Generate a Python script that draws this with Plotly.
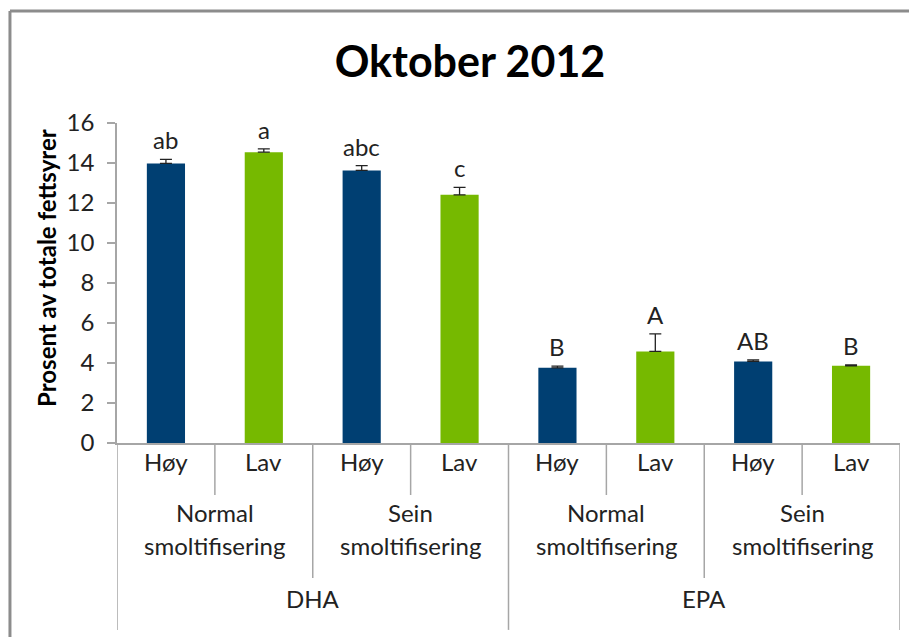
import plotly.graph_objects as go

# data
fatty_acids = ["DHA", "EPA"]
smolt_groups = ["Normal smoltifisering", "Sein smoltifisering"]
levels = ["Høy", "Lav"]
values = [13.98, 14.54, 13.63, 12.41, 3.76, 4.58, 4.08, 3.86]
errors = [0.20, 0.17, 0.24, 0.37, 0.08, 0.88, 0.08, 0.05]
letters = ["ab", "a", "abc", "c", "B", "A", "AB", "B"]

BLUE = "#003F72"
GREEN = "#76B900"
AXIS = "#A6A6A6"
FONT = "Lato"
TXT = "#222222"

# page body has an 8px margin, so the figure is shifted by 8px
W, H = 909, 629

xs = list(range(len(values)))
colors = [BLUE if i % 2 == 0 else GREEN for i in xs]

fig = go.Figure()
fig.add_trace(
    go.Bar(
        x=xs,
        y=values,
        width=0.39,
        marker=dict(color=colors, line=dict(width=0)),
        error_y=dict(type="data", array=errors, arrayminus=[0] * len(errors),
                     symmetric=False, color=TXT, thickness=1.3, width=6),
        showlegend=False,
    )
)

annotations = []

# significance letters above the error bars
for x, v, e, t in zip(xs, values, errors, letters):
    annotations.append(dict(x=x, y=v + e, xref="x", yref="y", text=t,
                            showarrow=False, yanchor="bottom", yshift=3,
                            font=dict(size=24, color=TXT, family=FONT)))

# level labels (Høy / Lav)
for x in xs:
    annotations.append(dict(x=x, y=-0.109, xref="x", yref="paper",
                            text=levels[x % 2], showarrow=False,
                            font=dict(size=24, color=TXT, family=FONT)))

# smoltification labels
for g in range(4):
    name = smolt_groups[g % 2].split(" ")
    cx = g * 2 + 0.5
    annotations.append(dict(x=cx, y=-0.269, xref="x", yref="paper", text=name[0],
                            showarrow=False, font=dict(size=24, color=TXT, family=FONT)))
    annotations.append(dict(x=cx, y=-0.372, xref="x", yref="paper", text=name[1],
                            showarrow=False, font=dict(size=24, color=TXT, family=FONT)))

# fatty acid labels
for k, fa in enumerate(fatty_acids):
    annotations.append(dict(x=k * 4 + 1.5, y=-0.5375, xref="x", yref="paper", text=fa,
                            showarrow=False, font=dict(size=24, color=TXT, family=FONT)))

# y axis title
annotations.append(dict(x=-0.0894, y=0.547, xref="paper", yref="paper",
                        xanchor="center", yanchor="middle",
                        text="<b>Prosent av totale fettsyrer</b>", textangle=-90,
                        showarrow=False, font=dict(size=24, color="black", family=FONT)))

# separators of the category axis
shapes = []
for i in range(len(values) + 1):
    xb = i - 0.5
    if i % 4 == 0:
        y1 = -0.584
    elif i % 2 == 0:
        y1 = -0.422
    else:
        y1 = -0.1625
    shapes.append(dict(type="line", xref="x", yref="paper", x0=xb, x1=xb, y0=0, y1=y1,
                       line=dict(color=AXIS, width=1.5)))

# outer chart border (top and left edges only are in view)
shapes.append(dict(type="line", xref="paper", yref="paper", x0=-0.1367, x1=1.1,
                   y0=1.35, y1=1.35, line=dict(color="#8C8C8C", width=3)))
shapes.append(dict(type="line", xref="paper", yref="paper", x0=-0.1367, x1=-0.1367,
                   y0=-0.75, y1=1.35, line=dict(color="#8C8C8C", width=3)))

fig.update_layout(
    width=W,
    height=H,
    margin=dict(l=109, r=17, t=115, b=H - 115 - 320),
    paper_bgcolor="white",
    plot_bgcolor="white",
    font=dict(family=FONT, size=24, color=TXT),
    title=dict(text="<b>Oktober 2012</b>", x=462 / W, xanchor="center",
               y=1 - 54 / H, yanchor="middle",
               font=dict(size=43, color="black", family=FONT)),
    xaxis=dict(range=[-0.5, 7.5], showticklabels=False, ticks="", showgrid=False,
               zeroline=False, showline=True, linecolor=AXIS, linewidth=1.5),
    yaxis=dict(range=[0, 16], dtick=2, ticks="outside", ticklen=8, tickcolor=AXIS,
               tickwidth=1.5, ticklabelstandoff=8, showgrid=False, zeroline=False,
               showline=True, linecolor=AXIS, linewidth=1.5,
               tickfont=dict(size=24, color=TXT)),
    annotations=annotations,
    shapes=shapes,
)

# keep the page from showing scrollbars
fig.write_html("out.html", post_script="document.body.style.overflow = 'hidden';")
